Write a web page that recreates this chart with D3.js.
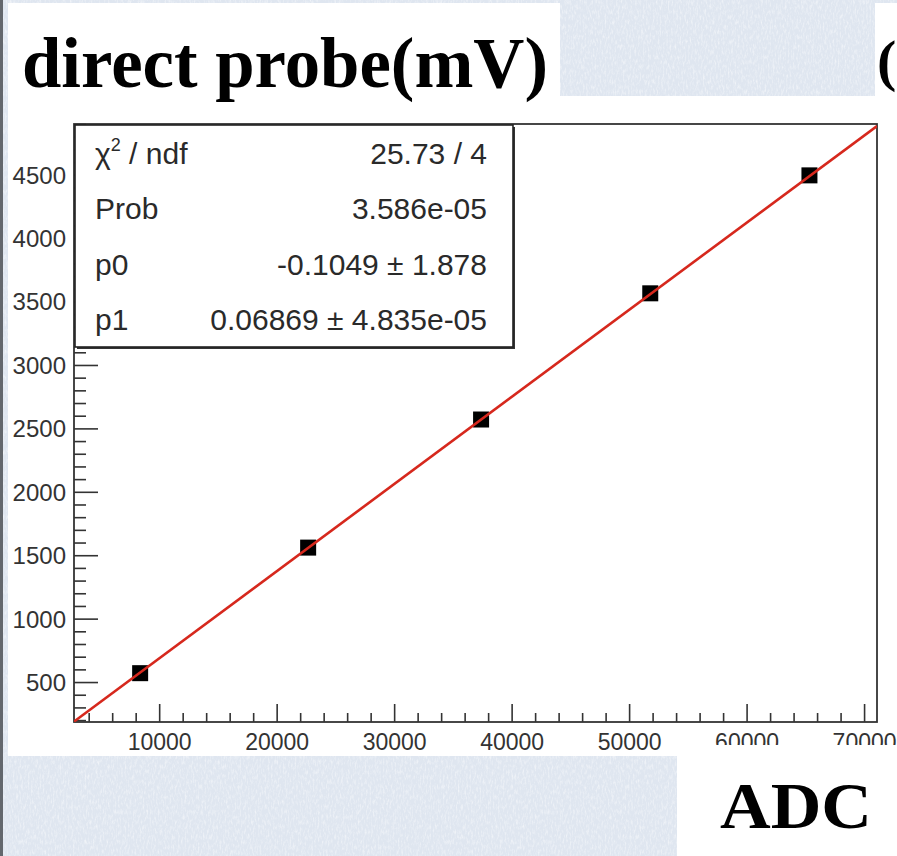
<!DOCTYPE html>
<html>
<head>
<meta charset="utf-8">
<script src="https://cdn.jsdelivr.net/npm/d3@7"></script>
<style>
  html, body { margin:0; padding:0; background:#e4eaf2; }
  svg { display:block; }
</style>
</head>
<body>
<div id="chart"></div>
<script>
// data
var xVals = [8380, 22680, 37400, 51800, 65350];   // ADC
var yVals = [570, 1560, 2570, 3565, 4495];        // direct probe (mV)
var xRange = [2750, 71100];
var yRange = [185, 4900];
var xMajor = [10000, 20000, 30000, 40000, 50000, 60000, 70000];
var yMajor = [500, 1000, 1500, 2000, 2500, 3000, 3500, 4000, 4500];
var fitP0 = -0.1049, fitP1 = 0.06869;
var statNames = ["chi", "Prob", "p0", "p1"];
var statValues = ["25.73 / 4", "3.586e-05", "-0.1049 \u00b1 1.878", "0.06869 \u00b1 4.835e-05"];

var W = 897, H = 856;
var frame = {left:74, right:877, top:124, bottom:722};

var svg = d3.select("#chart").append("svg")
    .attr("width", W).attr("height", H);

// paper texture background
var defs = svg.append("defs");
var f = defs.append("filter").attr("id","paper").attr("x",0).attr("y",0).attr("width","100%").attr("height","100%");
f.append("feTurbulence").attr("type","fractalNoise").attr("baseFrequency","0.6 0.2").attr("numOctaves",3).attr("seed",4).attr("result","n");
f.append("feColorMatrix").attr("in","n").attr("type","matrix")
    .attr("values","0 0 0 0 1  0 0 0 0 1  0 0 0 0 1  0 0 0 -1.6 0.9");
defs.append("clipPath").attr("id","clipFrame").append("rect")
    .attr("x",frame.left).attr("y",frame.top)
    .attr("width",frame.right-frame.left).attr("height",frame.bottom-frame.top);

svg.append("rect").attr("width",W).attr("height",H).attr("fill","#dfe6f0");
svg.append("rect").attr("width",W).attr("height",H).attr("filter","url(#paper)").attr("opacity",0.7);
svg.append("rect").attr("x",0).attr("y",0).attr("width",3).attr("height",H).attr("fill","#63676d");

// white panels
svg.append("rect").attr("x",8).attr("y",3).attr("width",552).attr("height",93).attr("fill","#fff");
svg.append("rect").attr("x",875).attr("y",3).attr("width",22).attr("height",93).attr("fill","#fff");
svg.append("rect").attr("x",8).attr("y",96).attr("width",W-8).attr("height",660).attr("fill","#fff");

// titles
svg.append("text").attr("x",22).attr("y",87)
    .attr("font-family","Liberation Serif, DejaVu Serif, serif").attr("font-weight","bold")
    .attr("font-size",72).attr("textLength",526).attr("lengthAdjust","spacingAndGlyphs")
    .attr("fill","#000").text("direct probe(mV)");
svg.append("text").attr("x",877).attr("y",80)
    .attr("font-family","Liberation Serif, DejaVu Serif, serif").attr("font-weight","bold")
    .attr("font-size",58).attr("fill","#000").text("(");

var x = d3.scaleLinear().domain(xRange).range([frame.left, frame.right]);
var y = d3.scaleLinear().domain(yRange).range([frame.bottom, frame.top]);

var axisColor = "#333";

// x axis: ticks pointing inward (up)
var xMinor = d3.range(4000, 72000, 2000).filter(function(v){ return v % 10000 !== 0 && v <= xRange[1]; });
var xAxis = svg.append("g").attr("transform","translate(0,"+frame.bottom+")");
xAxis.call(d3.axisBottom(x).tickValues(xMinor).tickSize(-9).tickFormat(""));
xAxis.append("g").call(d3.axisBottom(x).tickValues(xMajor).tickSize(-18).tickFormat(d3.format("d")));
xAxis.selectAll(".domain").remove();
xAxis.selectAll("line").attr("stroke",axisColor).attr("stroke-width",1.6);
xAxis.selectAll("text").attr("y",28).attr("dy",0)
    .attr("font-family","Liberation Sans, Arial, sans-serif").attr("font-size",23).attr("fill","#333");

// y axis: ticks pointing inward (right)
var yMinor = d3.range(200, 4901, 100).filter(function(v){ return v % 500 !== 0; });
var yAxis = svg.append("g").attr("transform","translate("+frame.left+",0)");
yAxis.call(d3.axisLeft(y).tickValues(yMinor).tickSize(-12).tickFormat(""));
yAxis.append("g").call(d3.axisLeft(y).tickValues(yMajor).tickSize(-24).tickFormat(d3.format("d")));
yAxis.selectAll(".domain").remove();
yAxis.selectAll("line").attr("stroke",axisColor).attr("stroke-width",1.6);
yAxis.selectAll("text").attr("x",-8).attr("dy","0.35em")
    .attr("font-family","Liberation Sans, Arial, sans-serif").attr("font-size",24).attr("fill","#333");

// frame
svg.append("rect").attr("x",frame.left).attr("y",frame.top)
    .attr("width",frame.right-frame.left).attr("height",frame.bottom-frame.top)
    .attr("fill","none").attr("stroke",axisColor).attr("stroke-width",1.8);

// markers
var pts = xVals.map(function(v,i){ return {x:v, y:yVals[i]}; });
svg.append("g").selectAll("rect").data(pts).enter().append("rect")
    .attr("x",function(d){ return x(d.x)-8; })
    .attr("y",function(d){ return y(d.y)-8; })
    .attr("width",16).attr("height",16).attr("fill","#000");

// fit line
var fitLine = d3.line().x(function(d){ return x(d); }).y(function(d){ return y(fitP0 + fitP1*d); });
svg.append("path").datum(xRange).attr("d",fitLine)
    .attr("clip-path","url(#clipFrame)")
    .attr("fill","none").attr("stroke","#d6281d").attr("stroke-width",2.6);

// stats box
var box = {x:75, y:125, w:438, h:222};
svg.append("rect").attr("x",box.x+2).attr("y",box.y+2).attr("width",box.w).attr("height",box.h).attr("fill","#333");
svg.append("rect").attr("x",box.x).attr("y",box.y).attr("width",box.w).attr("height",box.h)
    .attr("fill","#fff").attr("stroke","#222").attr("stroke-width",1.6);
var rowH = box.h/statNames.length;
var sg = svg.append("g").attr("font-family","Liberation Sans, Arial, sans-serif").attr("font-size",30).attr("fill","#2a2a2a");
statNames.forEach(function(n,i){
  var by = box.y + rowH*(i+0.5) + 11;
  var t = sg.append("text").attr("x",box.x+20).attr("y",by);
  if (n === "chi") {
    t.append("tspan").text("\u03c7");
    t.append("tspan").attr("font-size",18).attr("dy",-13).text("2");
    t.append("tspan").attr("dy",13).text(" / ndf");
  } else {
    t.text(n);
  }
  sg.append("text").attr("x",box.x+box.w-26).attr("y",by).attr("text-anchor","end").text(statValues[i]);
});

// x title box at bottom right, covering part of the labels
svg.append("rect").attr("x",677).attr("y",745).attr("width",W-677).attr("height",H-745).attr("fill","#fff");
svg.append("text").attr("x",720).attr("y",828)
    .attr("font-family","Liberation Serif, DejaVu Serif, serif").attr("font-weight","bold")
    .attr("font-size",66).attr("textLength",152).attr("lengthAdjust","spacingAndGlyphs")
    .attr("fill","#000").text("ADC");
</script>
</body>
</html>
